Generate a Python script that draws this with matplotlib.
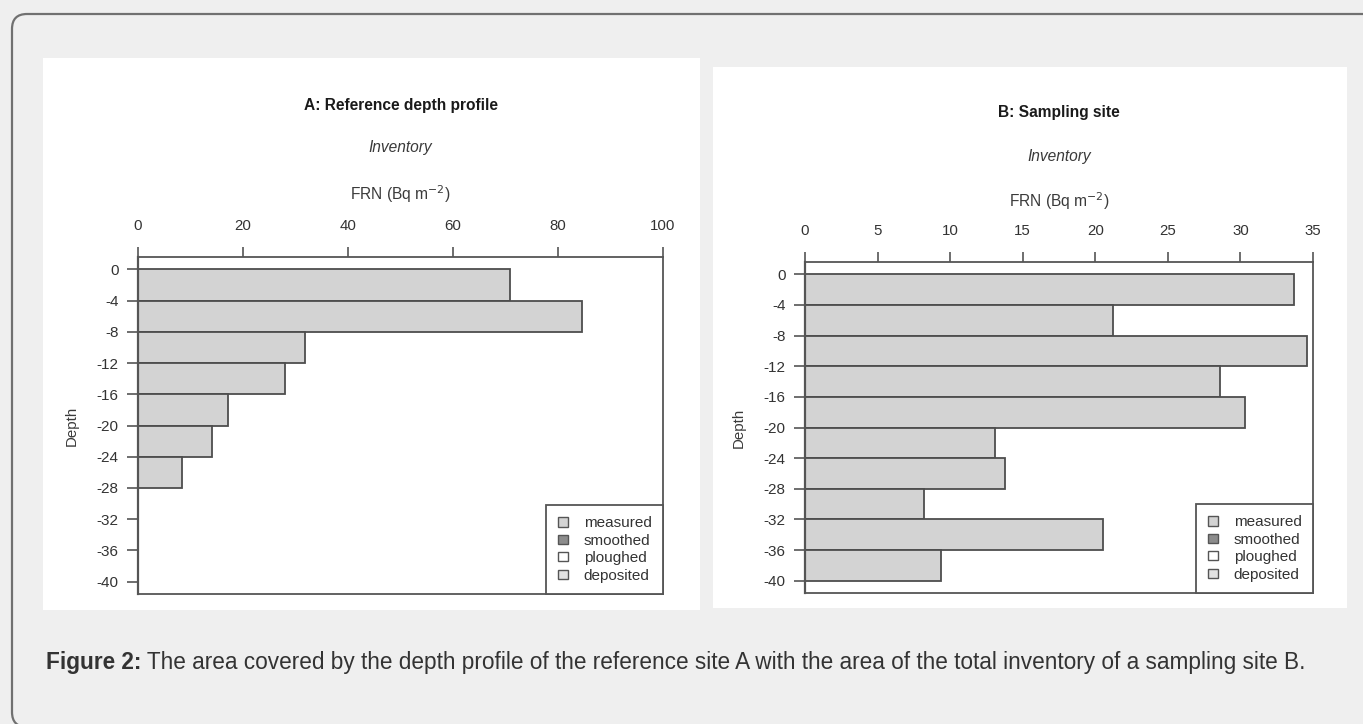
import matplotlib
matplotlib.use("Agg")
import matplotlib.pyplot as plt
from matplotlib.patches import Rectangle, FancyBboxPatch, Patch
from matplotlib.transforms import offset_copy

plt.rcParams['font.family'] = ['Liberation Sans', 'DejaVu Sans']

# ---------------- data ----------------
depth_ticks = [0, -4, -8, -12, -16, -20, -24, -28, -32, -36, -40]
layer_tops = [0, -4, -8, -12, -16, -20, -24, -28, -32, -36]
ref_inventory = [70.8, 84.5, 31.8, 28.0, 17.2, 14.0, 8.4, 0.0, 0.0, 0.0]
site_inventory = [33.7, 21.2, 34.6, 28.6, 30.3, 13.1, 13.8, 8.2, 20.5, 9.4]
ref_xticks = [0, 20, 40, 60, 80, 100]
site_xticks = [0, 5, 10, 15, 20, 25, 30, 35]
legend_labels = ['measured', 'smoothed', 'ploughed', 'deposited']
legend_colors = ['#d3d3d3', '#8c8c8c', '#ffffff', '#e2e2e2']
titles = ['A: Reference depth profile', 'B: Sampling site']
caption_bold = 'Figure 2:'
caption_text = (' The area covered by the depth profile of the reference site A with '
                'the area of the total inventory of a sampling site B.')

W, H = 1363, 724
fig = plt.figure(figsize=(W / 100, H / 100), dpi=100, facecolor='#efefef')

def fx(x):
    return x / W

def fy(y):
    return 1 - y / H

# outer rounded border
border = FancyBboxPatch((fx(12), fy(727)), fx(1390) - fx(12), fy(14) - fy(727),
                        boxstyle='round,pad=0,rounding_size=0.011',
                        transform=fig.transFigure, facecolor='#efefef',
                        edgecolor='#707070', linewidth=1.6, zorder=0,
                        mutation_aspect=W / H)
fig.patches.append(border)

# white panels
for (x0, y0, x1, y1) in [(43, 58, 700, 610), (713, 67, 1347, 608)]:
    fig.patches.append(Rectangle((fx(x0), fy(y1)), fx(x1) - fx(x0), fy(y0) - fy(y1),
                                 transform=fig.transFigure, facecolor='white',
                                 edgecolor='none', zorder=1))

FS = 11.2
LINE = '#555555'

panels = [
    dict(box=(138, 257, 663, 594), data=ref_inventory, xt=ref_xticks, xlim=(0, 100),
         title=titles[0], offs=(152, 110, 63)),
    dict(box=(805, 262, 1313, 593), data=site_inventory, xt=site_xticks, xlim=(0, 35),
         title=titles[1], offs=(149, 106, 61)),
]

for p in panels:
    l, t, r, b = p['box']
    ax = fig.add_axes([fx(l), fy(b), fx(r) - fx(l), fy(t) - fy(b)])
    ax.set_zorder(3)
    ax.barh(layer_tops, p['data'], height=-4, align='edge', color='#d3d3d3',
            edgecolor='#4d4d4d', linewidth=1.3, zorder=2)
    ax.set_xlim(*p['xlim'])
    ax.set_ylim(-41.6, 1.6)
    ax.set_xticks(p['xt'])
    ax.set_xticklabels([str(v) for v in p['xt']])
    ax.set_yticks(depth_ticks)
    ax.set_yticklabels([str(v) for v in depth_ticks])
    ax.xaxis.tick_top()
    ax.tick_params(axis='x', length=7.2, width=1.2, color=LINE, pad=10,
                   labelsize=FS - 0.4, labelcolor='#333333')
    ax.tick_params(axis='y', length=8, width=1.2, color=LINE, pad=6,
                   labelsize=FS - 0.2, labelcolor='#333333')
    for s in ax.spines.values():
        s.set_color(LINE)
        s.set_linewidth(1.3)
    ax.spines['left'].set_linewidth(1.6)
    ax.set_ylabel('Depth', fontsize=FS - 0.4, color='#3a3a3a', va='center')
    ax.yaxis.set_label_coords(-66 / (r - l), 0.5)

    o_title, o_inv, o_frn = p['offs']
    ax.text(0.5, 1, p['title'], fontsize=FS, fontweight='bold', color='#1a1a1a',
            ha='center', va='center',
            transform=offset_copy(ax.transAxes, fig=fig, x=0, y=o_title, units='dots'))
    ax.text(0.5, 1, 'Inventory', fontsize=FS, fontstyle='italic', color='#3a3a3a',
            ha='center', va='center',
            transform=offset_copy(ax.transAxes, fig=fig, x=0, y=o_inv, units='dots'))
    ax.text(0.5, 1, r'FRN (Bq m$^{-2}$)', fontsize=FS, color='#3a3a3a',
            ha='center', va='center',
            transform=offset_copy(ax.transAxes, fig=fig, x=0, y=o_frn, units='dots'))

    handles = [Patch(facecolor=c, edgecolor='#555555', linewidth=1.0) for c in legend_colors]
    leg = ax.legend(handles, legend_labels, loc='lower right', borderaxespad=0,
                    fontsize=FS - 0.2, frameon=True, fancybox=False, framealpha=1,
                    edgecolor=LINE, borderpad=0.75, handlelength=0.7,
                    handleheight=0.55, handletextpad=1.0, labelspacing=0.22)
    leg.get_frame().set_linewidth(1.3)
    for txt in leg.get_texts():
        txt.set_color('#333333')

# caption
fig.canvas.draw()
renderer = fig.canvas.get_renderer()
target = 1307 - 46
size = 16.0
for _ in range(3):
    tb = fig.text(fx(46), fy(663), caption_bold, fontsize=size, fontweight='bold',
                  color='#333333', va='center', ha='left')
    tr = fig.text(0, 0, caption_text, fontsize=size, color='#333333')
    w = tb.get_window_extent(renderer).width + tr.get_window_extent(renderer).width
    tb.remove()
    tr.remove()
    size = size * target / w

tb = fig.text(fx(46), fy(663), caption_bold, fontsize=size, fontweight='bold',
              color='#333333', va='center', ha='left')
bw = tb.get_window_extent(renderer).width
fig.text(fx(46 + bw), fy(663), caption_text, fontsize=size, color='#333333',
         va='center', ha='left')

fig.savefig('out.png', dpi=100, facecolor=fig.get_facecolor())
